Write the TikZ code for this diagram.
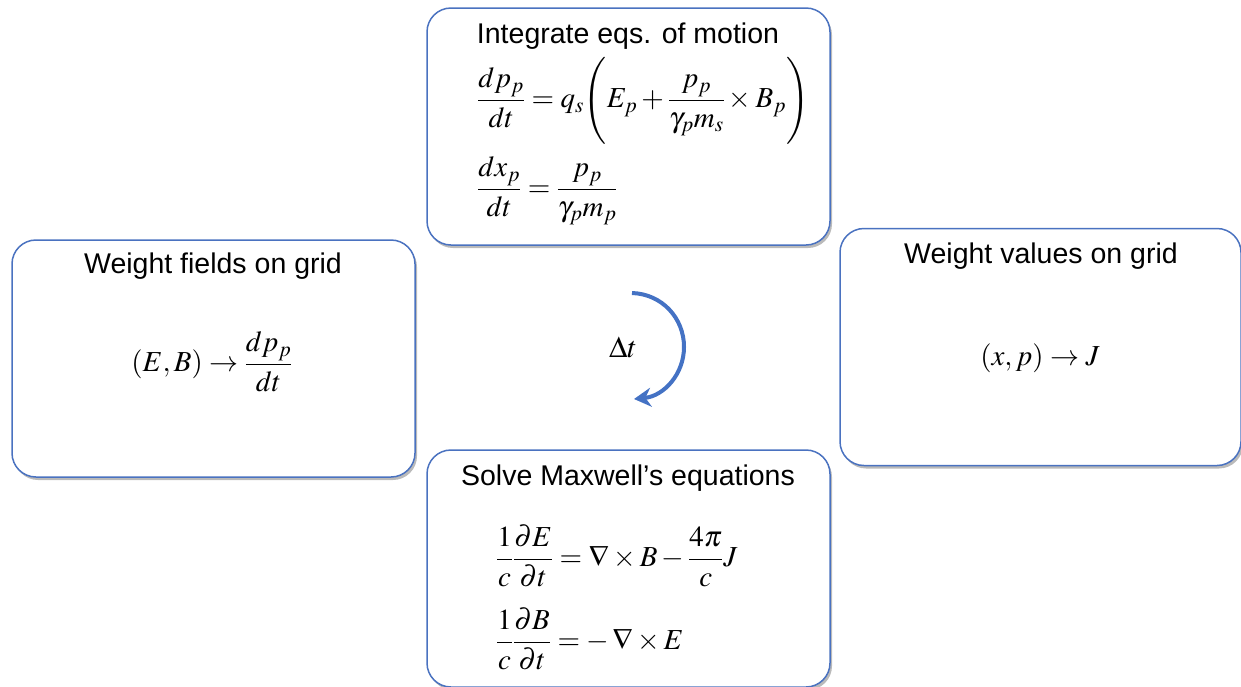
\documentclass[tikz,border=0pt]{standalone}
\usepackage{amsmath}
\usepackage{mathptmx}
\usepackage[no-math]{fontspec}
\setmainfont{Liberation Sans}
\usetikzlibrary{arrows.meta,shadows}
\definecolor{bbord}{HTML}{4A72C0}
\definecolor{barrow}{HTML}{4472C4}
\tikzset{
  panel/.style={draw=bbord, line width=1.5pt, rounded corners=24pt, fill=white,
    minimum width=403pt, minimum height=237pt, inner sep=0pt,
    drop shadow={shadow xshift=2pt, shadow yshift=-3pt, opacity=0.45, fill=black!60}},
  ttl/.style={font=\fontsize{28.5}{32}\selectfont, inner sep=0pt, anchor=base},
  eqn/.style={font=\fontsize{29}{34}\selectfont, inner sep=0pt},
  cyc/.style={draw=barrow, line width=4pt, -{Stealth[length=17pt,width=19pt]}}
}
\begin{document}
\begin{tikzpicture}[x=1pt,y=-1pt]
\useasboundingbox (0,0) rectangle (1241,686);
% panels
\node[panel] (top) at (628.5,126.5) {};
\node[panel] (left) at (213.5,358.5) {};
\node[panel, minimum width=401pt] (right) at (1040.5,347) {};
\node[panel] (bot) at (628.5,568.5) {};
% titles
\node[ttl] (ttop) at (628,43) {Integrate eqs. of motion};
\node[ttl] (tleft) at (213,273) {Weight fields on grid};
\node[ttl] (tright) at (1041,263) {Weight values on grid};
\node[ttl] (tbot) at (628,485) {Solve Maxwell’s equations};
% equations
\node[eqn, anchor=west] (e1) at (477,102) {$\displaystyle \frac{dp_p}{dt} = q_s\mathopen{\smash{\Bigg(}}E_p + \frac{p_p}{\gamma_p m_s}\times B_p\mathclose{\smash{\Bigg)}}$};
\node[eqn, anchor=west] (e2) at (477,191) {$\displaystyle \frac{dx_p}{dt} = \frac{p_p}{\gamma_p m_p}$};
\node[eqn] (e3) at (212,362) {$\displaystyle (E,B)\rightarrow\frac{dp_p}{dt}$};
\node[eqn] (e4) at (1040,358) {$(x,p)\rightarrow J$};
\node[eqn, anchor=west] (e5) at (496,556) {$\displaystyle \frac{1}{c}\frac{\partial E}{\partial t} = \nabla\times B - \frac{4\pi}{c}J$};
\node[eqn, anchor=west] (e6) at (496,639) {$\displaystyle \frac{1}{c}\frac{\partial B}{\partial t} = -\,\nabla\times E$};
% cycle arrow
\node[ttl, font=\fontsize{30}{34}\selectfont] (dt) at (623,357) {$\Delta t$};
\coordinate (cs) at (632,293);
\coordinate (ce) at (634,399);
\draw[cyc] (cs) .. controls (662,294) and (684,318) .. (684,347)
  .. controls (684,374) and (664,396) .. (ce);
\end{tikzpicture}
\end{document}
